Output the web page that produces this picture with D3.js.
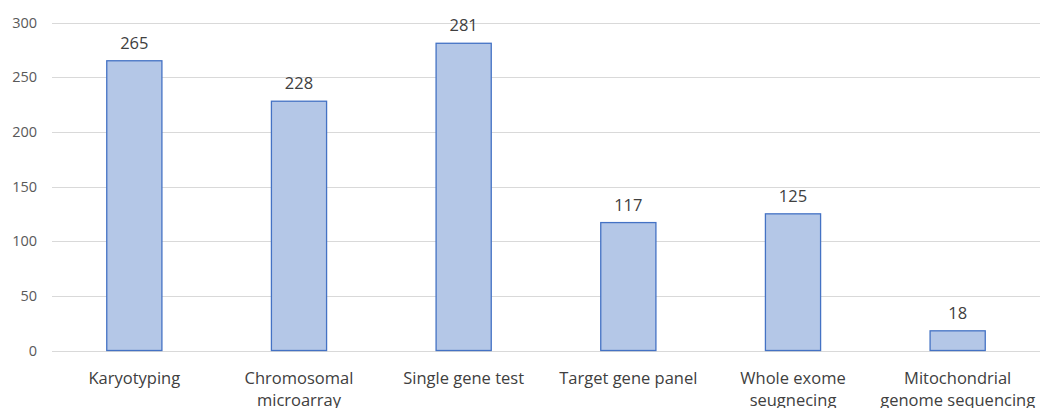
<!DOCTYPE html>
<html>
<head>
<meta charset="utf-8">
<script src="https://cdn.jsdelivr.net/npm/d3@7"></script>
<style>
  html, body { margin: 0; padding: 0; background: #fff; }
  svg { display: block; font-family: "Open Sans", "Noto Sans", sans-serif; }
</style>
</head>
<body>
<svg id="chart" width="1042" height="408"></svg>
<script>
// Number of tests by method
const categories = [
  ["Karyotyping"],
  ["Chromosomal", "microarray"],
  ["Single gene test"],
  ["Target gene panel"],
  ["Whole exome", "seugnecing"],
  ["Mitochondrial", "genome sequencing"]
];
const values = [265, 228, 281, 117, 125, 18];
const yTicks = [0, 50, 100, 150, 200, 250, 300];

const svg = d3.select("#chart");
const margin = { left: 52, right: 2, top: 22.5, bottom: 57.5 };
const W = 1042, H = 408;

const x = d3.scaleBand()
  .domain(d3.range(values.length))
  .range([margin.left, W - margin.right])
  .paddingInner(0.665)
  .paddingOuter(0.3325);

const y = d3.scaleLinear()
  .domain([0, 300])
  .range([H - margin.bottom, margin.top]);

// Horizontal gridlines
svg.append("g")
  .selectAll("line")
  .data(yTicks)
  .join("line")
  .attr("x1", margin.left)
  .attr("x2", W - margin.right)
  .attr("y1", d => Math.round(y(d)) + 0.5)
  .attr("y2", d => Math.round(y(d)) + 0.5)
  .attr("stroke", "#d9d9d9")
  .attr("stroke-width", 1);

// Y axis tick labels
const yAxis = d3.axisLeft(y).tickValues(yTicks).tickSize(0).tickPadding(0);
const gy = svg.append("g")
  .attr("transform", `translate(${margin.left - 15},0)`)
  .call(yAxis);
gy.select(".domain").remove();
gy.selectAll("text")
  .attr("font-size", 14.5)
  .attr("fill", "#595959")
  .attr("font-family", "'Open Sans', 'Noto Sans', sans-serif");

// Bars
svg.append("g")
  .selectAll("rect")
  .data(values)
  .join("rect")
  .attr("x", (d, i) => x(i))
  .attr("y", d => y(d))
  .attr("width", x.bandwidth())
  .attr("height", d => y(0) - y(d))
  .attr("fill", "#b4c7e7")
  .attr("stroke", "#4472c4")
  .attr("stroke-width", 1.3);

// Value labels
svg.append("g")
  .selectAll("text")
  .data(values)
  .join("text")
  .attr("x", (d, i) => x(i) + x.bandwidth() / 2)
  .attr("y", d => y(d) - 12)
  .attr("text-anchor", "middle")
  .attr("font-size", 16.5)
  .attr("fill", "#404040")
  .text(d => d);

// Category labels (possibly two lines)
const cat = svg.append("g")
  .selectAll("text")
  .data(categories)
  .join("text")
  .attr("x", (d, i) => x(i) + x.bandwidth() / 2)
  .attr("y", y(0) + 33.5)
  .attr("text-anchor", "middle")
  .attr("font-size", 16.5)
  .attr("fill", "#404040");
cat.selectAll("tspan")
  .data(d => d)
  .join("tspan")
  .attr("x", function () { return d3.select(this.parentNode).attr("x"); })
  .attr("dy", (d, j) => j === 0 ? 0 : 22)
  .text(d => d);
</script>
</body>
</html>
